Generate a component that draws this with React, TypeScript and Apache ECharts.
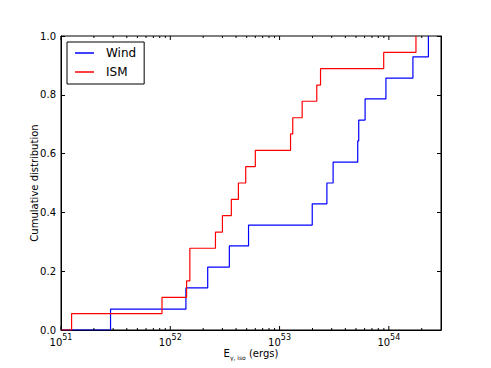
import React, { useEffect, useRef } from "react";
import * as echarts from "echarts";

const X_MIN = 1e51;
const X_MAX = 3e54;

const windEnergy = [2.84e51, 1.39e52, 2.2e52, 3.47e52, 5.2e52, 1.99e53, 2.71e53, 3.09e53, 5.19e53, 5.3e53, 6.06e53, 9.4e53, 1.66e54, 2.3e54];
const windCdf = [0.071, 0.143, 0.214, 0.286, 0.357, 0.429, 0.5, 0.571, 0.643, 0.714, 0.786, 0.857, 0.929, 1.0];

const ismEnergy = [1.25e51, 8.4e51, 1.41e52, 1.51e52, 2.59e52, 3.0e52, 3.62e52, 4.2e52, 4.9e52, 6.0e52, 1.26e53, 1.32e53, 1.61e53, 2.19e53, 2.37e53, 8.97e53, 1.77e54];
const ismCdf = [0.056, 0.111, 0.167, 0.278, 0.333, 0.389, 0.444, 0.5, 0.556, 0.611, 0.667, 0.722, 0.778, 0.833, 0.889, 0.944, 1.0];

const decades = [1e51, 1e52, 1e53, 1e54];
const minorMultipliers = [2, 3, 4, 5, 6, 7, 8, 9];

const FONT = "DejaVu Sans";

export default function App() {
  const ref = useRef<HTMLDivElement>(null);
  useEffect(() => {
    if (!ref.current) return;
    const chart = echarts.init(ref.current, null, { renderer: "svg" });

    // tick marks: [value, length]
    const tickMarks: number[][] = [];
    decades.forEach((d) => {
      tickMarks.push([d, 4]);
      minorMultipliers.forEach((m) => {
        const v = d * m;
        if (v < X_MAX) tickMarks.push([v, 2]);
      });
    });

    const windData = [[X_MIN, 0], ...windEnergy.map((e, i) => [e, windCdf[i]])];
    const ismData = [[X_MIN, 0], ...ismEnergy.map((e, i) => [e, ismCdf[i]])];

    const expFormatter = (v: number) => {
      const e = Math.log10(v);
      if (Math.abs(e - Math.round(e)) > 1e-6) return "";
      return `{b|10}{s|${Math.round(e)}}`;
    };

    const option: any = {
      animation: false,
      textStyle: { fontFamily: FONT },
      grid: {
        left: 61, right: 50, top: 36, bottom: 38, containLabel: false, outerBoundsMode: "none",
        show: true, borderColor: "#000", borderWidth: 1, backgroundColor: "transparent",
      },
      legend: {
        left: 67,
        top: 42,
        orient: "vertical",
        data: [
          { name: "Wind", icon: "rect" },
          { name: "ISM", icon: "rect" },
        ],
        itemWidth: 19,
        itemHeight: 1.5,
        itemGap: 5,
        padding: [4, 8, 5, 8],
        borderColor: "#000",
        borderWidth: 1,
        borderRadius: 0,
        backgroundColor: "#fff",
        textStyle: { fontSize: 12, color: "#000", fontFamily: FONT, padding: [0, 0, 0, 7], lineHeight: 14 },
      },
      xAxis: [
        {
          type: "log",
          logBase: 10,
          min: X_MIN,
          max: X_MAX,
          name: "{n|E}{sub|γ, iso}{n| (ergs)}",
          nameLocation: "middle",
          nameGap: 16,
          nameMoveOverlap: false,
          nameTextStyle: {
            rich: {
              n: { fontSize: 10, fontFamily: FONT, color: "#000", lineHeight: 14, verticalAlign: "middle" },
              sub: { fontSize: 6, fontFamily: FONT, color: "#000", lineHeight: 7, verticalAlign: "bottom" },
            },
          },
          axisLine: { show: true, lineStyle: { color: "#000", width: 1 } },
          axisTick: { show: false },
          minorTick: { show: false },
          splitLine: { show: false },
          axisLabel: {
            margin: 3,
            formatter: expFormatter,
            showMaxLabel: false,
            rich: {
              b: { fontSize: 10, fontFamily: FONT, color: "#000", verticalAlign: "bottom", lineHeight: 14 },
              s: { fontSize: 8, fontFamily: FONT, color: "#000", verticalAlign: "top", lineHeight: 12 },
            },
          },
        },
      ],
      yAxis: [
        {
          type: "value",
          min: 0,
          max: 1,
          interval: 0.2,
          name: "Cumulative distribution",
          nameLocation: "middle",
          nameGap: 22,
          nameMoveOverlap: false,
          nameTextStyle: { fontSize: 10, color: "#000", fontFamily: FONT },
          axisLine: { show: true, lineStyle: { color: "#000", width: 1 } },
          axisTick: { show: true, inside: true, length: 4, lineStyle: { color: "#000" } },
          splitLine: { show: false },
          axisLabel: {
            margin: 5,
            fontSize: 10,
            color: "#000",
            fontFamily: FONT,
            formatter: (v: number) => v.toFixed(1),
          },
        },
        {
          type: "value",
          min: 0,
          max: 1,
          interval: 0.2,
          position: "right",
          axisLine: { show: true, lineStyle: { color: "#000", width: 1 } },
          axisTick: { show: true, inside: true, length: 4, lineStyle: { color: "#000" } },
          splitLine: { show: false },
          axisLabel: { show: false },
        },
      ],
      series: [
        {
          name: "Wind",
          type: "line",
          step: "end",
          data: windData,
          symbol: "none",
          showSymbol: false,
          lineStyle: { color: "#0000ff", width: 1.2 },
          itemStyle: { color: "#0000ff" },
          z: 3,
        },
        {
          name: "ISM",
          type: "line",
          step: "end",
          data: ismData,
          symbol: "none",
          showSymbol: false,
          lineStyle: { color: "#ff0000", width: 1.2 },
          itemStyle: { color: "#ff0000" },
          z: 3,
        },
        {
          name: "ticks",
          type: "custom",
          data: tickMarks,
          silent: true,
          clip: false,
          renderItem: (params: any, api: any) => {
            const v = api.value(0);
            const len = api.value(1);
            const pb = api.coord([v, 0]);
            const pt = api.coord([v, 1]);
            return {
              type: "group",
              children: [
                { type: "line", shape: { x1: pb[0], y1: pb[1], x2: pb[0], y2: pb[1] - len }, style: { stroke: "#000", lineWidth: 1 } },
                { type: "line", shape: { x1: pt[0], y1: pt[1], x2: pt[0], y2: pt[1] + len }, style: { stroke: "#000", lineWidth: 1 } },
              ],
            };
          },
          z: 4,
        },
      ],
    };
    chart.setOption(option);
    return () => chart.dispose();
  }, []);
  return <div ref={ref} style={{ width: 491, height: 368, position: "absolute", left: 0, top: 0, background: "#fff" }} />;
}
